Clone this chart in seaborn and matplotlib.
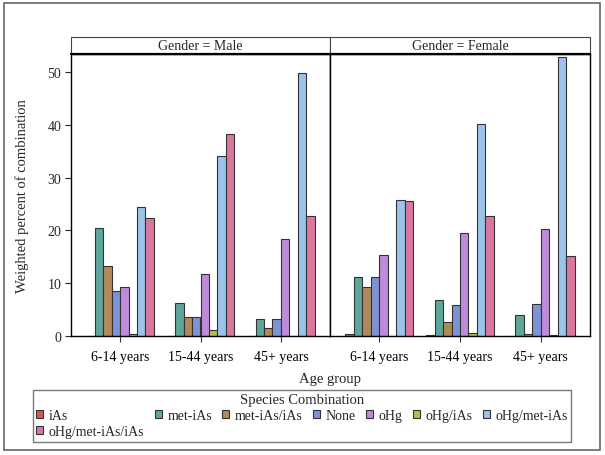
import numpy as np
import pandas as pd
import matplotlib
matplotlib.use('Agg')
import matplotlib.pyplot as plt
from matplotlib.patches import Rectangle
import seaborn as sns

# categories
ages = ['6-14 years', '15-44 years', '45+ years']
species = ['iAs', 'met-iAs', 'met-iAs/iAs', 'None', 'oHg', 'oHg/iAs',
           'oHg/met-iAs', 'oHg/met-iAs/iAs']
genders = ['Male', 'Female']

# weighted percent, one list per gender/age group (order = species)
male_6_14 = [0, 20.4, 13.3, 8.5, 9.2, 0.4, 24.5, 22.4]
male_15_44 = [0, 6.3, 3.6, 3.6, 11.8, 1.1, 34.1, 38.2]
male_45 = [0, 3.2, 1.6, 3.2, 18.3, 0, 49.9, 22.7]
female_6_14 = [0.3, 11.1, 9.3, 11.1, 15.3, 0, 25.7, 25.5]
female_15_44 = [0.1, 6.8, 2.7, 5.9, 19.5, 0.5, 40.1, 22.7]
female_45 = [0, 4.0, 0.4, 6.0, 20.2, 0.1, 52.8, 15.1]

colors = ['#D9574F', '#5FA69A', '#B08A5A', '#7D93D6', '#C08ADB', '#B8BE45',
          '#9CC3EA', '#D9779F']

rows = []
for g, lists in zip(genders, [[male_6_14, male_15_44, male_45],
                              [female_6_14, female_15_44, female_45]]):
    for a, vals in zip(ages, lists):
        for s, v in zip(species, vals):
            rows.append({'gender': g, 'age': a, 'species': s, 'pct': v})
df = pd.DataFrame(rows)

sns.set_style('ticks')
plt.rcParams['font.family'] = ['Liberation Serif', 'DejaVu Serif']
plt.rcParams['font.size'] = 10

W, H = 605, 456
fig = plt.figure(figsize=(W / 100, H / 100), dpi=100)

def fx(px):
    return px / W

def fy(px):
    return 1 - px / H

top, bot = 55, 337
left_ax = fig.add_axes([fx(71), fy(bot), fx(330) - fx(71), fy(top) - fy(bot)])
right_ax = fig.add_axes([fx(330), fy(bot), fx(590) - fx(330), fy(top) - fy(bot)])

for ax, g in zip([left_ax, right_ax], genders):
    sns.barplot(data=df[df.gender == g], x='age', y='pct', hue='species',
                order=ages, hue_order=species, palette=colors, width=0.84,
                saturation=1, edgecolor='#333333', linewidth=0.8, ax=ax)
    ax.get_legend().remove()
    ax.set_ylim(0, 53.45)
    ax.set_xlim(-0.61, 2.61)
    ax.set_xlabel('')
    ax.set_ylabel('')
    for sp in ax.spines.values():
        sp.set_visible(True)
        sp.set_color('black')
        sp.set_linewidth(1.0)
    ax.tick_params(axis='x', length=4, width=0.8, colors='#333333', labelcolor='black',
                   labelsize=10, pad=6)
    # header strip
    strip_h = 17 / (bot - top)
    ax.add_patch(Rectangle((0, 1), 1, strip_h, transform=ax.transAxes,
                           facecolor='white', edgecolor='#444444', lw=0.8,
                           clip_on=False))
    ax.plot([0, 1], [1, 1], transform=ax.transAxes, color='black', lw=1.6,
            clip_on=False)
    ax.text(0.5, 1 + strip_h / 2, f'Gender = {g}', transform=ax.transAxes,
            ha='center', va='center', fontsize=10)

left_ax.set_yticks([0, 10, 20, 30, 40, 50])
left_ax.tick_params(axis='y', length=4, width=0.8, labelsize=10, pad=3)
right_ax.set_yticks([])

fig.text(fx(22), fy(196), 'Weighted percent of combination', rotation=90,
         ha='center', va='center', fontsize=10.5)
fig.text(fx(330), fy(380), 'Age group', ha='center', va='center', fontsize=10.5)

# legend fills column-wise; reorder so it reads row-wise like the original
handles, labels = left_ax.get_legend_handles_labels()
order = [0, 7, 1, 2, 3, 4, 5, 6]
handles = [handles[i] for i in order]
labels = [labels[i] for i in order]
leg = fig.legend(handles, labels, title='Species Combination', ncol=7,
                 loc='upper center', bbox_to_anchor=(fx(302), fy(391)),
                 frameon=True, fancybox=False, edgecolor='#555555',
                 fontsize=10, title_fontsize=10.5, handlelength=0.5,
                 handleheight=0.5, handletextpad=0.4, columnspacing=0.75,
                 labelspacing=0.2, borderpad=0.25, borderaxespad=0)
leg.get_frame().set_linewidth(1.0)

# outer border
fig.patches.append(Rectangle((fx(4), fy(451)), fx(600) - fx(4), fy(4) - fy(451),
                             transform=fig.transFigure, fill=False,
                             edgecolor='#666666', lw=1.2))

fig.savefig('out.png', dpi=100)
